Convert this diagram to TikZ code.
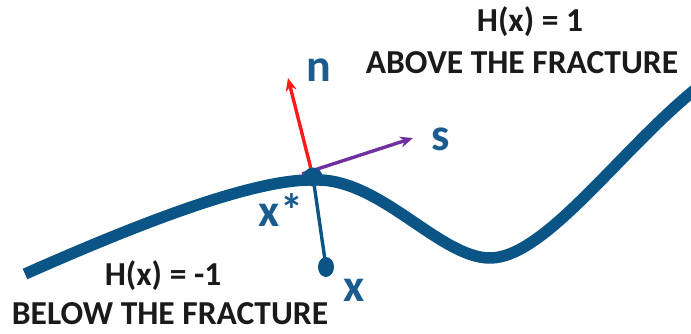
\documentclass[tikz,border=0pt]{standalone}
\usepackage{fontspec}
\setmainfont{Carlito}
\usetikzlibrary{arrows.meta,shapes.geometric}
\definecolor{fracblue}{HTML}{0B5486}
\definecolor{labelblue}{HTML}{1A5C8F}
\definecolor{normalred}{HTML}{FF1A1A}
\definecolor{tangentpurple}{HTML}{7030A0}
\definecolor{textdark}{HTML}{1A1A1A}

\begin{document}
\begin{tikzpicture}[
  x=1pt,
  y=-1pt,
  line join=round,
  fracture/.style={draw=fracblue,line width=11.5pt},
  proj/.style={draw=fracblue,line width=3.4pt},
  normalarrow/.style={draw=normalred,line width=3.4pt,-{Stealth[length=13pt,width=11pt]}},
  tangentarrow/.style={draw=tangentpurple,line width=3.4pt,-{Stealth[length=13pt,width=11pt]}},
  vlabel/.style={text=labelblue,font=\fontsize{46}{50}\selectfont\bfseries,inner sep=0pt},
  hlabel/.style={text=textdark,font=\fontsize{33.5}{38}\selectfont\bfseries,inner sep=0pt}
]
  % Keep the original 691x334 frame.
  \useasboundingbox (0,0) rectangle (691,334);

  % The fracture trace.
  \draw[fracture] (25,274) .. controls (120,232) and (250,178) .. (315,180)
    .. controls (380,178) and (440,258) .. (490,258)
    .. controls (545,258) and (620,150) .. (697,88);

  % Closest point on the fracture and the query point.
  \node[circle,minimum size=19pt,inner sep=0pt] (xstar) at (313,177) {};
  \node[fill=fracblue,ellipse,minimum width=16pt,minimum height=20pt,inner sep=0pt] (xpt) at (326,267) {};
  \draw[proj] (xstar.center) -- (xpt.center);

  % Local normal and tangent directions.
  \coordinate (ntip) at (288,78);
  \coordinate (stip) at (413,138);
  \draw[normalarrow] (xstar.center) -- (ntip);
  \draw[tangentarrow] (302,174) -- (stip);
  \fill[fracblue] (xstar) circle[radius=9.5pt];

  % Vector and point labels.
  \node[vlabel] (nlab) at (319,70) {n};
  \node[vlabel] (slab) at (441,139) {s};
  \node[vlabel] (xslab) at (281,210) {x*};
  \node[vlabel] (xlab) at (354,290) {x};

  % Heaviside values on both sides.
  \node[hlabel] (habove) at (530,22) {H(x) = 1};
  \node[hlabel] (above) at (522,63) {ABOVE THE FRACTURE};
  \node[hlabel] (hbelow) at (163,276) {H(x) = -1};
  \node[hlabel] (below) at (170,314) {BELOW THE FRACTURE};
\end{tikzpicture}
\end{document}
